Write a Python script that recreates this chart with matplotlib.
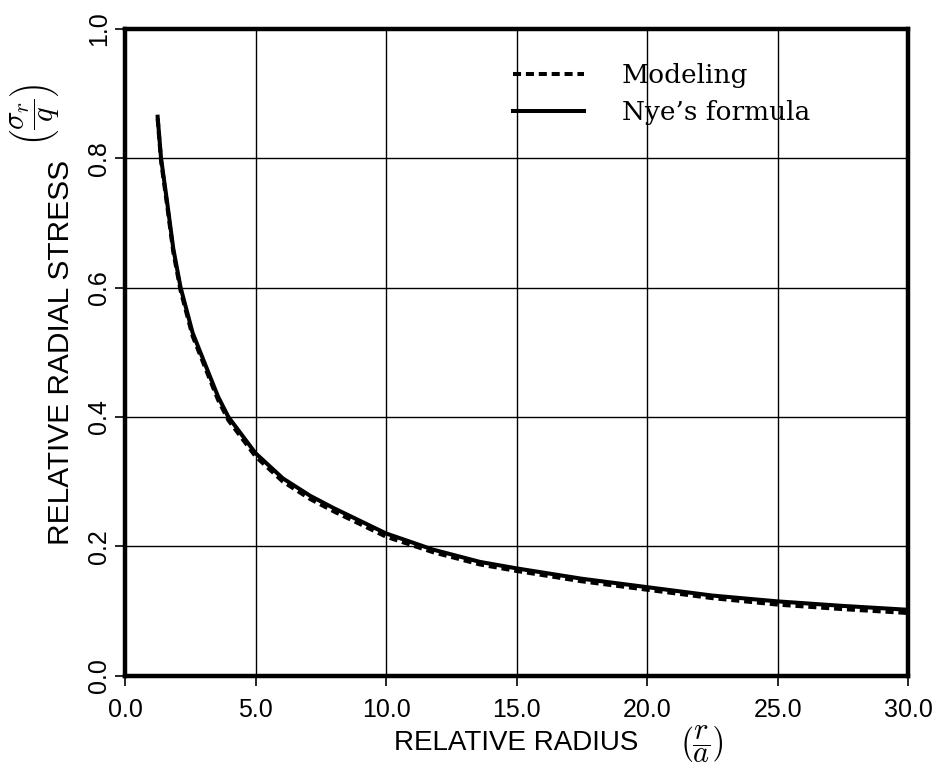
import numpy as np
import matplotlib
matplotlib.use("Agg")
import matplotlib.pyplot as plt

plt.rcParams['font.family'] = ['Liberation Sans', 'DejaVu Sans']
plt.rcParams['mathtext.fontset'] = 'cm'

# values
radius = [1.25, 1.38, 1.6, 1.85, 2.13, 2.59, 3.33, 3.57, 3.96, 5.0, 6.05, 7.1, 8.0,
          10.0, 11.8, 13.6, 15.0, 17.5, 20.0, 22.5, 25.0, 27.5, 30.0]
stress_nye = [0.864, 0.800, 0.736, 0.660, 0.600, 0.530, 0.455, 0.431, 0.400, 0.344,
              0.305, 0.278, 0.259, 0.220, 0.195, 0.176, 0.166, 0.150, 0.137, 0.124,
              0.115, 0.108, 0.102]
stress_model = [0.861, 0.796, 0.731, 0.655, 0.595, 0.525, 0.450, 0.426, 0.395, 0.339,
                0.300, 0.273, 0.254, 0.215, 0.191, 0.172, 0.162, 0.146, 0.133, 0.120,
                0.110, 0.103, 0.097]

xticks = [0, 5, 10, 15, 20, 25, 30]
yticks = [0.0, 0.2, 0.4, 0.6, 0.8, 1.0]

fig = plt.figure(figsize=(9.47, 7.75), dpi=100)
ax = fig.add_axes([0.132, 0.128, 0.827, 0.835])

ax.plot(radius, stress_model, color='black', lw=2.9, ls=(0, (2.0, 1.2)), label='Modeling')
ax.plot(radius, stress_nye, color='black', lw=2.9, label='Nye\u2019s formula')

ax.set_xlim(0, 30)
ax.set_ylim(0, 1.0)
ax.set_xticks(xticks)
ax.set_xticklabels(['%.1f' % v for v in xticks])
ax.set_yticks(yticks)
ax.set_yticklabels(['%.1f' % v for v in yticks], rotation=90, va='center')
ax.tick_params(direction='out', length=7, width=1.2, labelsize=18)
ax.tick_params(axis='x', pad=9)
ax.tick_params(axis='y', pad=3)

ax.grid(color='black', linewidth=1.0)
for s in ax.spines.values():
    s.set_linewidth(3.2)

ax.set_xlabel('RELATIVE RADIUS', fontsize=20, va='top')
ax.xaxis.set_label_coords(0.5, -0.083)
ax.set_ylabel('RELATIVE RADIAL STRESS', fontsize=21.5)
ax.yaxis.set_label_coords(-0.064, 0.5)

# the fractions after the axis titles
fig.text(0.740, 0.040, r'$\left(\dfrac{r}{a}\right)$', fontsize=22, ha='center', va='center')
fig.text(0.036, 0.852, r'$\left(\dfrac{\sigma_r}{q}\right)$', fontsize=22, ha='center',
         va='center', rotation=90)

leg = ax.legend(loc='upper left', bbox_to_anchor=(0.478, 0.967), frameon=False,
                borderpad=0, prop={'family': 'DejaVu Serif', 'size': 19},
                handlelength=2.7, handletextpad=1.45, labelspacing=0.45)

plt.savefig("out.png", dpi=100)
